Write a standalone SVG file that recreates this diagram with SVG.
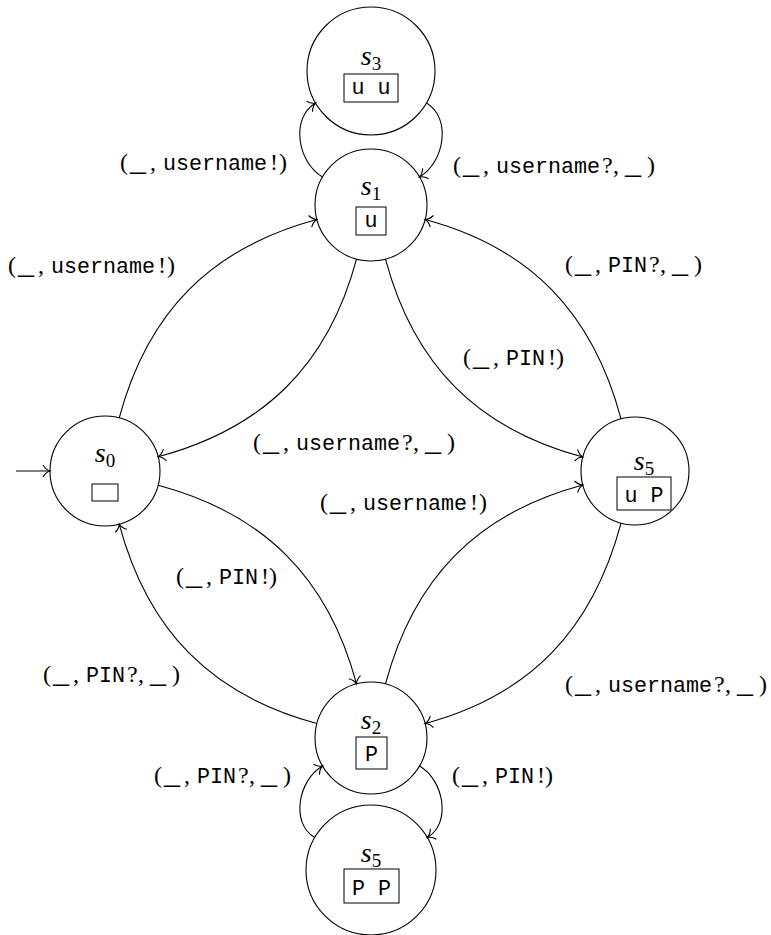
<svg xmlns="http://www.w3.org/2000/svg" width="771" height="935" viewBox="0 0 771 935">
<style>
  .st circle { fill: #fff; stroke: #000; stroke-width: 1.1; }
  .box { fill: none; stroke: #000; stroke-width: 1; }
  .sl { font-family: "Liberation Serif", serif; font-style: italic; font-size: 28px; fill: #000; }
  .sub { font-style: normal; font-size: 19px; }
  .tt { font-family: "Liberation Mono", monospace; font-size: 21.7px; fill: #000; }
  .rm { font-family: "Liberation Serif", serif; font-size: 24px; fill: #000; }
  .us { font-size: 32px; }
  .e { fill: none; stroke: #000; stroke-width: 1.1; marker-end: url(#to); }
</style>
<defs>
  <marker id="to" markerUnits="userSpaceOnUse" markerWidth="20" markerHeight="20" viewBox="-10 -10 20 20" refX="0" refY="0" orient="auto" overflow="visible">
    <path d="M-7,-6 C-5,-2.5 -2,-0.6 0,0 C-2,0.6 -5,2.5 -7,6" fill="none" stroke="#000" stroke-width="1.1"/>
  </marker>
</defs>

<g id="s3" class="st">
  <circle cx="371" cy="71" r="64"/>
  <text class="sl" x="371" y="65" text-anchor="middle">s<tspan class="sub" dy="5">3</tspan></text>
  <rect class="box" x="344" y="74" width="54" height="28"/>
  <text class="tt" x="371" y="93.5" text-anchor="middle">u u</text>
</g>
<g id="s1" class="st">
  <circle cx="371" cy="205" r="56"/>
  <text class="sl" x="371" y="195" text-anchor="middle">s<tspan class="sub" dy="5">1</tspan></text>
  <rect class="box" x="356" y="207" width="30" height="28"/>
  <text class="tt" x="371" y="226.5" text-anchor="middle">u</text>
</g>
<g id="s0" class="st">
  <circle cx="105" cy="471" r="55"/>
  <text class="sl" x="105" y="462" text-anchor="middle">s<tspan class="sub" dy="5">0</tspan></text>
  <rect class="box" x="92" y="484" width="26" height="17"/>
</g>
<g id="s5r" class="st">
  <circle cx="635" cy="471" r="54"/>
  <text class="sl" x="644" y="470" text-anchor="middle">s<tspan class="sub" dy="5">5</tspan></text>
  <rect class="box" x="617" y="477" width="54" height="33"/>
  <text class="tt" x="644" y="501.5" text-anchor="middle">u P</text>
</g>
<g id="s2" class="st">
  <circle cx="371" cy="738" r="56"/>
  <text class="sl" x="371" y="729" text-anchor="middle">s<tspan class="sub" dy="5">2</tspan></text>
  <rect class="box" x="356" y="737" width="31" height="32"/>
  <text class="tt" x="371.5" y="760.5" text-anchor="middle">P</text>
</g>
<g id="s5b" class="st">
  <circle cx="371" cy="870" r="65"/>
  <text class="sl" x="371" y="862" text-anchor="middle">s<tspan class="sub" dy="5">5</tspan></text>
  <rect class="box" x="344" y="869" width="55" height="34"/>
  <text class="tt" x="371.5" y="894.5" text-anchor="middle">P P</text>
</g>

<g id="edges">
  <path class="e" d="M16,471 L50,471"/>
  <path class="e" d="M119.23,417.88 C147.61,311.97 211.0,247.87 316.91,219.49"/>
  <path class="e" d="M356.51,259.09 C328.13,365.0 264.03,428.39 158.12,456.77"/>
  <path class="e" d="M385.49,259.09 C413.81,364.79 477.14,428.70 582.84,457.02"/>
  <path class="e" d="M621.02,418.84 C592.70,313.14 530.79,247.81 425.09,219.49"/>
  <path class="e" d="M158.12,485.23 C264.29,513.68 328.06,577.74 356.51,683.91"/>
  <path class="e" d="M316.91,723.51 C210.74,695.06 147.68,630.29 119.23,524.12"/>
  <path class="e" d="M385.49,683.91 C413.88,577.95 476.88,513.37 582.84,484.98"/>
  <path class="e" d="M621.02,523.16 C592.63,629.12 531.05,695.12 425.09,723.51"/>
  <path class="e" d="M322.5,177 C297.3,162.45 290.37,117.55 315.57,103"/>
  <path class="e" d="M426.43,103 C451.63,117.55 444.7,162.45 419.5,177"/>
  <path class="e" d="M314.71,837.5 C290.32,823.42 298.11,780.08 322.5,766"/>
  <path class="e" d="M419.5,766 C443.89,780.08 451.68,823.42 427.29,837.5"/>
</g>

<g id="edge-labels">
  <g transform="translate(120,170)"><text class="rm"><tspan x="0">(</tspan><tspan x="10" class="us">_</tspan><tspan x="30">,</tspan><tspan x="43" class="tt">username</tspan><tspan x="150">!</tspan><tspan x="159">)</tspan></text></g>
  <g transform="translate(453,173)"><text class="rm"><tspan x="0">(</tspan><tspan x="10" class="us">_</tspan><tspan x="30">,</tspan><tspan x="43" class="tt">username</tspan><tspan x="149">?</tspan><tspan x="160">,</tspan><tspan x="172" class="us">_</tspan><tspan x="194">)</tspan></text></g>
  <g transform="translate(8,273)"><text class="rm"><tspan x="0">(</tspan><tspan x="10" class="us">_</tspan><tspan x="30">,</tspan><tspan x="43" class="tt">username</tspan><tspan x="150">!</tspan><tspan x="159">)</tspan></text></g>
  <g transform="translate(565,272)"><text class="rm"><tspan x="0">(</tspan><tspan x="10" class="us">_</tspan><tspan x="30">,</tspan><tspan x="43" class="tt">PIN</tspan><tspan x="84">?</tspan><tspan x="95">,</tspan><tspan x="107" class="us">_</tspan><tspan x="129">)</tspan></text></g>
  <g transform="translate(463,365)"><text class="rm"><tspan x="0">(</tspan><tspan x="10" class="us">_</tspan><tspan x="30">,</tspan><tspan x="43" class="tt">PIN</tspan><tspan x="85">!</tspan><tspan x="93">)</tspan></text></g>
  <g transform="translate(253,450)"><text class="rm"><tspan x="0">(</tspan><tspan x="10" class="us">_</tspan><tspan x="30">,</tspan><tspan x="43" class="tt">username</tspan><tspan x="149">?</tspan><tspan x="160">,</tspan><tspan x="172" class="us">_</tspan><tspan x="194">)</tspan></text></g>
  <g transform="translate(320,510)"><text class="rm"><tspan x="0">(</tspan><tspan x="10" class="us">_</tspan><tspan x="30">,</tspan><tspan x="43" class="tt">username</tspan><tspan x="150">!</tspan><tspan x="159">)</tspan></text></g>
  <g transform="translate(176,584)"><text class="rm"><tspan x="0">(</tspan><tspan x="10" class="us">_</tspan><tspan x="30">,</tspan><tspan x="43" class="tt">PIN</tspan><tspan x="85">!</tspan><tspan x="93">)</tspan></text></g>
  <g transform="translate(43,682)"><text class="rm"><tspan x="0">(</tspan><tspan x="10" class="us">_</tspan><tspan x="30">,</tspan><tspan x="43" class="tt">PIN</tspan><tspan x="84">?</tspan><tspan x="95">,</tspan><tspan x="107" class="us">_</tspan><tspan x="129">)</tspan></text></g>
  <g transform="translate(565,692)"><text class="rm"><tspan x="0">(</tspan><tspan x="10" class="us">_</tspan><tspan x="30">,</tspan><tspan x="43" class="tt">username</tspan><tspan x="149">?</tspan><tspan x="160">,</tspan><tspan x="172" class="us">_</tspan><tspan x="194">)</tspan></text></g>
  <g transform="translate(154,783)"><text class="rm"><tspan x="0">(</tspan><tspan x="10" class="us">_</tspan><tspan x="30">,</tspan><tspan x="43" class="tt">PIN</tspan><tspan x="84">?</tspan><tspan x="95">,</tspan><tspan x="107" class="us">_</tspan><tspan x="129">)</tspan></text></g>
  <g transform="translate(452,783)"><text class="rm"><tspan x="0">(</tspan><tspan x="10" class="us">_</tspan><tspan x="30">,</tspan><tspan x="43" class="tt">PIN</tspan><tspan x="85">!</tspan><tspan x="93">)</tspan></text></g>
</g>
</svg>
